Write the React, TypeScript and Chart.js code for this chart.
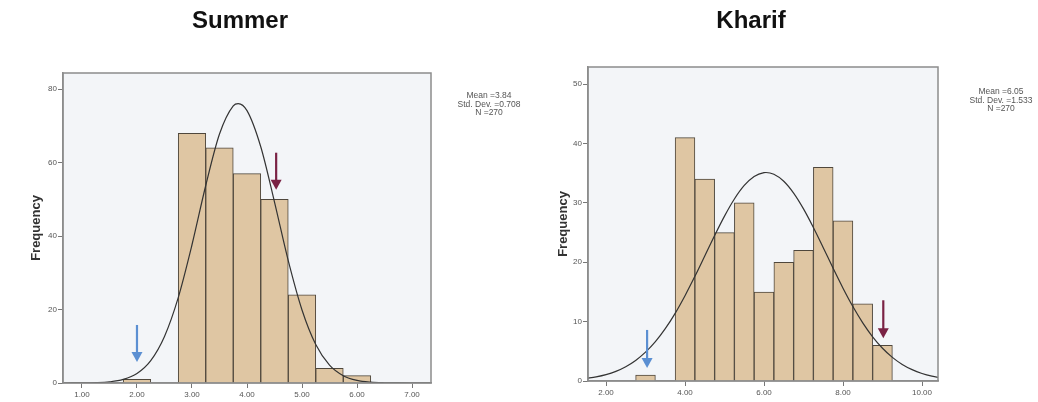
import React, { useEffect, useRef } from "react";
import { Chart, registerables } from "chart.js";

Chart.register(...registerables);

// ---------- Summer ----------
const summerBinCenters = [2.0, 3.0, 3.5, 4.0, 4.5, 5.0, 5.5, 6.0];
const summerCounts = [1, 68, 64, 57, 50, 24, 4, 2];
const summerCurveX = [0.5, 0.75, 1, 1.25, 1.5, 1.75, 2, 2.25, 2.5, 2.75, 3, 3.25, 3.5, 3.75, 3.84, 4, 4.25, 4.5, 4.75, 5, 5.25, 5.5, 5.75, 6, 6.25, 6.5, 6.75, 7, 7.25, 7.5];
const summerCurveY = [0.001, 0.006, 0.024, 0.094, 0.32, 0.98, 2.6, 6.11, 12.69, 23.26, 37.64, 53.77, 67.79, 75.46, 76.07, 74.15, 64.32, 49.26, 33.3, 19.88, 10.47, 4.87, 2.0, 0.72, 0.23, 0.065, 0.016, 0.004, 0.001, 0.0];
const summerXTicks = [1, 2, 3, 4, 5, 6, 7];
const summerYTicks = [0, 20, 40, 60, 80];
const summerXRange = [0.655, 7.345];
const summerYMax = 84.4;
const summerStats = ["Mean =3.84", "Std. Dev. =0.708", "N =270"];
const summerArrowX = [2.0, 4.53];
const summerArrowTop = [15.8, 62.7];
const summerArrowBottom = [5.7, 52.6];

// ---------- Kharif ----------
const kharifBinCenters = [3.0, 4.0, 4.5, 5.0, 5.5, 6.0, 6.5, 7.0, 7.5, 8.0, 8.5, 9.0];
const kharifCounts = [1, 41, 34, 25, 30, 15, 20, 22, 36, 27, 13, 6];
const kharifCurveX = [1.5, 1.75, 2, 2.25, 2.5, 2.75, 3, 3.25, 3.5, 3.75, 4, 4.25, 4.5, 4.75, 5, 5.25, 5.5, 5.75, 6, 6.05, 6.25, 6.5, 6.75, 7, 7.25, 7.5, 7.75, 8, 8.25, 8.5, 8.75, 9, 9.25, 9.5, 9.75, 10, 10.25, 10.5];
const kharifCurveY = [0.43, 0.69, 1.07, 1.63, 2.41, 3.46, 4.86, 6.63, 8.81, 11.4, 14.37, 17.63, 21.07, 24.52, 27.78, 30.66, 32.94, 34.46, 35.11, 35.13, 34.83, 33.65, 31.65, 28.99, 25.86, 22.46, 18.99, 15.64, 12.54, 9.8, 7.45, 5.52, 3.98, 2.79, 1.91, 1.27, 0.82, 0.52];
const kharifXTicks = [2, 4, 6, 8, 10];
const kharifYTicks = [0, 10, 20, 30, 40, 50];
const kharifXRange = [1.544, 10.405];
const kharifYMax = 52.9;
const kharifStats = ["Mean =6.05", "Std. Dev. =1.533", "N =270"];
const kharifArrowX = [3.04, 9.02];
const kharifArrowTop = [8.6, 13.6];
const kharifArrowBottom = [2.2, 7.2];

const FONT = "'Liberation Sans', Arial, sans-serif";
const BAR_FILL = "#dfc6a3";
const BAR_EDGE = "#4f473c";
const PLOT_BG = "#f3f5f8";
const FRAME = "#8c8c8c";
const ARROW_COLORS = ["#5b8fd2", "#7a2244"];

const framePlugin = {
  id: "frame",
  beforeDraw(chart: any) {
    const { ctx, chartArea: a } = chart;
    ctx.save();
    ctx.fillStyle = PLOT_BG;
    ctx.fillRect(a.left, a.top, a.right - a.left, a.bottom - a.top);
    ctx.restore();
  },
  afterDraw(chart: any, _args: any, o: any) {
    const { ctx, chartArea: a } = chart;
    const xs = chart.scales.x;
    const ys = chart.scales.y;
    ctx.save();
    ctx.strokeStyle = FRAME;
    ctx.lineWidth = 1.5;
    ctx.strokeRect(a.left, a.top, a.right - a.left, a.bottom - a.top);

    o.arrowX.forEach((ax: number, i: number) => {
      const px = xs.getPixelForValue(ax);
      const pt = ys.getPixelForValue(o.arrowTop[i]);
      const pb = ys.getPixelForValue(o.arrowBottom[i]);
      const head = 10;
      ctx.strokeStyle = ARROW_COLORS[i];
      ctx.fillStyle = ARROW_COLORS[i];
      ctx.lineWidth = 2.2;
      ctx.beginPath();
      ctx.moveTo(px, pt);
      ctx.lineTo(px, pb - head + 1);
      ctx.stroke();
      ctx.beginPath();
      ctx.moveTo(px - 5.5, pb - head);
      ctx.lineTo(px + 5.5, pb - head);
      ctx.lineTo(px, pb);
      ctx.closePath();
      ctx.fill();
    });

    ctx.fillStyle = "#111";
    ctx.font = `bold 24px ${FONT}`;
    ctx.textAlign = "center";
    ctx.textBaseline = "alphabetic";
    ctx.fillText(o.title, o.titleX, 28);

    ctx.save();
    ctx.translate(o.yTitleX, (a.top + a.bottom) / 2);
    ctx.rotate(-Math.PI / 2);
    ctx.font = `bold 13px ${FONT}`;
    ctx.fillStyle = "#333";
    ctx.textBaseline = "middle";
    ctx.fillText("Frequency", 0, 0);
    ctx.restore();

    ctx.font = `8.5px ${FONT}`;
    ctx.fillStyle = "#555";
    ctx.textAlign = "center";
    ctx.textBaseline = "middle";
    o.stats.forEach((s: string, i: number) => {
      ctx.fillText(s, o.statsX, o.statsY + i * 8.5);
    });
    ctx.restore();
  },
};

function makeConfig(p: any): any {
  return {
    type: "bar",
    data: {
      datasets: [
        {
          type: "line",
          data: p.curveX.map((x: number, i: number) => ({ x, y: p.curveY[i] })),
          borderColor: "#333",
          borderWidth: 1.2,
          pointRadius: 0,
          cubicInterpolationMode: "monotone",
          fill: false,
          order: 0,
        },
        {
          type: "bar",
          data: p.centers.map((x: number, i: number) => ({ x, y: p.counts[i] })),
          backgroundColor: BAR_FILL,
          borderColor: BAR_EDGE,
          borderWidth: 1,
          barPercentage: 1,
          categoryPercentage: 1,
          grouped: false,
          order: 1,
        },
      ],
    },
    options: {
      responsive: false,
      animation: false,
      devicePixelRatio: 1,
      layout: { padding: p.padding },
      plugins: {
        legend: { display: false },
        tooltip: { enabled: false },
        frame: {
          title: p.title,
          titleX: p.titleX,
          yTitleX: p.yTitleX,
          stats: p.stats,
          statsX: p.statsX,
          statsY: p.statsY,
          arrowX: p.arrowX,
          arrowTop: p.arrowTop,
          arrowBottom: p.arrowBottom,
        },
      },
      scales: {
        x: {
          type: "linear",
          offset: false,
          min: p.xRange[0],
          max: p.xRange[1],
          afterBuildTicks: (s: any) => {
            s.ticks = p.xTicks.map((v: number) => ({ value: v }));
          },
          afterFit: (s: any) => {
            s.height = p.xAxisH;
          },
          ticks: {
            autoSkip: false,
            maxRotation: 0,
            padding: 2,
            color: "#555",
            font: { size: 8, family: FONT },
            callback: (v: any) => Number(v).toFixed(2),
          },
          grid: { display: true, offset: false, drawOnChartArea: false, drawTicks: true, tickLength: 5, color: "#777" },
          border: { display: true, color: FRAME, width: 1.5 },
        },
        y: {
          type: "linear",
          min: 0,
          max: p.yMax,
          afterBuildTicks: (s: any) => {
            s.ticks = p.yTicks.map((v: number) => ({ value: v }));
          },
          afterFit: (s: any) => {
            s.width = 30;
          },
          ticks: {
            padding: 1,
            color: "#555",
            font: { size: 8, family: FONT },
            callback: (v: any) => String(v),
          },
          grid: { display: true, drawOnChartArea: false, drawTicks: true, tickLength: 5, color: "#777" },
          border: { display: true, color: FRAME, width: 1.5 },
        },
      },
    },
    plugins: [framePlugin],
  };
}

function HistChart(props: { cfg: any }) {
  const ref = useRef<HTMLCanvasElement>(null);
  useEffect(() => {
    if (!ref.current) return;
    const chart = new Chart(ref.current, makeConfig(props.cfg));
    return () => chart.destroy();
  }, []);
  return (
    <canvas
      ref={ref}
      width={1038}
      height={402}
      style={{ position: "absolute", left: 0, top: 0, width: 1038, height: 402 }}
    />
  );
}

const summerCfg = {
  centers: summerBinCenters,
  counts: summerCounts,
  curveX: summerCurveX,
  curveY: summerCurveY,
  xTicks: summerXTicks,
  yTicks: summerYTicks,
  xRange: summerXRange,
  yMax: summerYMax,
  stats: summerStats,
  arrowX: summerArrowX,
  arrowTop: summerArrowTop,
  arrowBottom: summerArrowBottom,
  title: "Summer",
  titleX: 240,
  yTitleX: 36,
  statsX: 489,
  statsY: 96,
  xAxisH: 19,
  padding: { left: 33, right: 607, top: 73, bottom: 0 },
};

const kharifCfg = {
  centers: kharifBinCenters,
  counts: kharifCounts,
  curveX: kharifCurveX,
  curveY: kharifCurveY,
  xTicks: kharifXTicks,
  yTicks: kharifYTicks,
  xRange: kharifXRange,
  yMax: kharifYMax,
  stats: kharifStats,
  arrowX: kharifArrowX,
  arrowTop: kharifArrowTop,
  arrowBottom: kharifArrowBottom,
  title: "Kharif",
  titleX: 751,
  yTitleX: 563,
  statsX: 1001,
  statsY: 92,
  xAxisH: 21,
  padding: { left: 558, right: 100, top: 67, bottom: 0 },
};

export default function App() {
  return (
    <div
      style={{
        position: "fixed",
        left: 0,
        top: 0,
        width: 1038,
        height: 402,
        background: "#ffffff",
        overflow: "hidden",
      }}
    >
      <HistChart cfg={summerCfg} />
      <HistChart cfg={kharifCfg} />
    </div>
  );
}
